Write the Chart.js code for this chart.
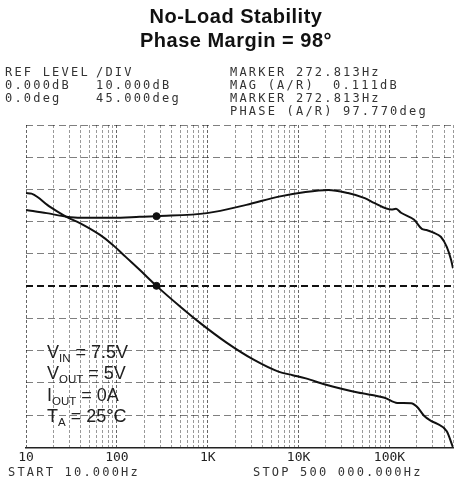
<!DOCTYPE html>
<html>
<head>
<meta charset="utf-8">
<script src="https://cdn.jsdelivr.net/npm/chart.js@4.4.1/dist/chart.umd.min.js"></script>
<style>
  body { margin: 0; background: #fff; }
  .wrap { position: relative; width: 458px; height: 485px; overflow: hidden; }
  canvas { position: absolute; left: 0; top: 0; }
  .title {
    position: absolute; left: 7px; top: 4px; width: 458px; text-align: center;
    font: bold 20px "Liberation Sans", Arial, sans-serif; line-height: 24px;
    letter-spacing: 0.5px; color: #111;
  }
  .mono {
    position: absolute; font-family: "DejaVu Sans Mono", monospace; font-size: 12px;
    line-height: 13px; letter-spacing: 2.2px; color: #333; white-space: pre;
  }
  .cond {
    position: absolute; left: 47px; top: 342px;
    font: 18px "Liberation Sans", Arial, sans-serif; line-height: 21.3px; color: #222;
  }
  .cond span { position: relative; top: 4px; font-size: 11.5px; line-height: 0; }
</style>
</head>
<body>
<div class="wrap">
  <canvas id="bode" width="458" height="485"></canvas>
  <div class="title">No-Load Stability<br>Phase Margin = 98°</div>

  <div class="mono" style="left:5px; top:66px;">REF LEVEL<br>0.000dB<br>0.0deg</div>
  <div class="mono" style="left:96px; top:66px;">/DIV<br>10.000dB<br>45.000deg</div>
  <div class="mono" style="left:230px; top:66px;">MARKER 272.813Hz<br>MAG (A/R)<br>MARKER 272.813Hz<br>PHASE (A/R)</div>
  <div class="mono" style="left:333px; top:79px;">0.111dB</div>
  <div class="mono" style="left:343px; top:105px;">97.770deg</div>

  <div class="cond">
    V<span>IN</span> = 7.5V<br>
    V<span>OUT</span> = 5V<br>
    I<span>OUT</span> = 0A<br>
    T<span>A</span> = 25°C
  </div>

  <div class="mono" style="left:8px; top:466px;">START 10.000Hz</div>
  <div class="mono" style="left:253px; top:466px;">STOP 500 000.000Hz</div>
</div>

<script>
// Magnitude trace (dB)
const magFreq = [10, 11.5, 13.5, 17, 22, 27.9, 39.6, 65.3, 90.3, 125, 178, 272.8, 496, 815, 1610, 3200, 6000, 8600, 12000, 19600, 44900, 88300, 122000, 173000, 201000, 240000, 286000, 332000, 427000, 500000];
const magDb = [28.9, 28.7, 27.6, 25.3, 23.2, 21.5, 19.5, 15.9, 12.8, 9.1, 5.1, 0.1, -6.3, -11.3, -17.5, -22.8, -26.5, -27.6, -28.6, -30.5, -33.0, -34.6, -36.2, -36.3, -37.4, -40.2, -41.8, -42.6, -45.0, -50.0];

// Phase trace (deg)
const phaseFreq = [10, 16.9, 27.9, 40, 90, 178, 272.8, 979, 2660, 6050, 11900, 21200, 34900, 53400, 68700, 105000, 118000, 134000, 187000, 227000, 255000, 300000, 367000, 427000, 476000, 500000];
const phaseDeg = [106.5, 102, 97, 95.4, 95.4, 96.8, 97.8, 102, 113.5, 125, 131.6, 134.4, 130, 123, 116, 107, 108, 102.5, 92.6, 80, 78.5, 75, 69, 55, 37, 25];

// Marker readout
const markerFreq = 272.813;
const markerMag = 0.111;
const markerPhase = 97.77;

// Axis ticks
const decades = [10, 100, 1000, 10000, 100000];
const xTickLabels = ['10', '100', '1K', '10K', '100K'];
const fStart = 10;
const fStop = 500000;

const gridFreqs = [];
decades.forEach(d => {
    for (let m = 1; m <= 9; m++) {
        if (m * d <= fStop) gridFreqs.push(m * d);
    }
});

const toPoints = (xs, ys) => xs.map((x, i) => ({ x: x, y: ys[i] }));

const ctx = document.getElementById('bode').getContext('2d');
const bode = new Chart(ctx, {
    type: 'line',
    data: {
        datasets: [
            {
                label: 'Magnitude',
                data: toPoints(magFreq, magDb),
                yAxisID: 'yMag',
                borderColor: '#111',
                borderWidth: 2,
                pointRadius: 0,
                cubicInterpolationMode: 'monotone'
            },
            {
                label: 'Phase',
                data: toPoints(phaseFreq, phaseDeg),
                yAxisID: 'yPhase',
                borderColor: '#111',
                borderWidth: 2,
                pointRadius: 0,
                cubicInterpolationMode: 'monotone'
            },
            {
                label: 'Marker mag',
                data: [{ x: markerFreq, y: markerMag }],
                yAxisID: 'yMag',
                showLine: false,
                pointRadius: 3.5,
                pointBackgroundColor: '#111',
                pointBorderColor: '#111'
            },
            {
                label: 'Marker phase',
                data: [{ x: markerFreq, y: markerPhase }],
                yAxisID: 'yPhase',
                showLine: false,
                pointRadius: 3.5,
                pointBackgroundColor: '#111',
                pointBorderColor: '#111'
            }
        ]
    },
    options: {
        responsive: false,
        animation: false,
        devicePixelRatio: 1,
        layout: { padding: { top: 125, left: 26, right: 0, bottom: 18 } },
        plugins: {
            legend: { display: false },
            tooltip: { enabled: false }
        },
        scales: {
            x: {
                type: 'logarithmic',
                min: fStart,
                max: fStop,
                afterBuildTicks: (scale) => {
                    scale.ticks = gridFreqs.map(v => ({ value: v }));
                },
                grid: {
                    drawTicks: false,
                    color: (c) => decades.includes(c.tick && c.tick.value) ? 'rgba(0,0,0,0.6)' : 'rgba(0,0,0,0.4)',
                    lineWidth: 1
                },
                border: { display: true, color: '#222', width: 1.5, dash: [3, 2] },
                ticks: {
                    autoSkip: false,
                    maxRotation: 0,
                    padding: 2,
                    color: '#222',
                    font: { family: 'DejaVu Sans Mono', size: 13 },
                    callback: (value) => {
                        const i = decades.indexOf(value);
                        return i >= 0 ? xTickLabels[i] : '';
                    }
                }
            },
            yMag: {
                type: 'linear',
                position: 'left',
                min: -50,
                max: 50,
                ticks: { stepSize: 10, display: false },
                grid: {
                    drawTicks: false,
                    color: (c) => c.tick && c.tick.value === 0 ? '#111' : 'rgba(0,0,0,0.5)',
                    lineWidth: (c) => c.tick && c.tick.value === 0 ? 2 : 1
                },
                border: { display: false, dash: [7, 4] }
            },
            yPhase: {
                type: 'linear',
                position: 'right',
                min: -225,
                max: 225,
                display: false
            }
        }
    }
});
</script>
</body>
</html>
